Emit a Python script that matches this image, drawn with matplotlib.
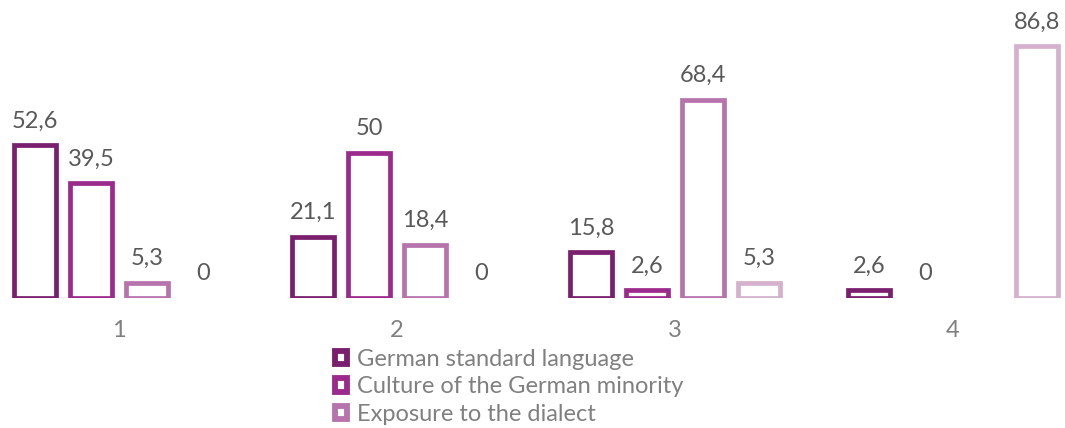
import numpy as np
import matplotlib
matplotlib.use("Agg")
import matplotlib.pyplot as plt
from matplotlib.patches import Patch

plt.rcParams['font.family'] = ['Lato', 'DejaVu Sans']

# Share of answers per rating (percent)
categories = ['1', '2', '3', '4']
series_names = ['German standard language',
                'Culture of the German minority',
                'Exposure to the dialect',
                'Other']
standard_language = [52.6, 21.1, 15.8, 2.6]
minority_culture = [39.5, 50.0, 2.6, 0.0]
dialect_exposure = [5.3, 18.4, 68.4, np.nan]
other = [0.0, 0.0, 5.3, 86.8]

series = [standard_language, minority_culture, dialect_exposure, other]
colors = ['#7a1e6e', '#9b2a8c', '#b673ac', '#d5b1cd']

fig = plt.figure(figsize=(10.65, 4.28), dpi=100)
ax = fig.add_axes([0, (428 - 298) / 428, 1, 298 / 428])

x = np.arange(len(categories))
step = 0.2014
width = 0.151

for j, (vals, col) in enumerate(zip(series, colors)):
    pos = x + (j - 1.5) * step
    for xp, v in zip(pos, vals):
        if np.isnan(v):
            continue
        # zero values get only a label, no outline
        if v > 0:
            ax.bar(xp, v, width, facecolor='white', edgecolor=col,
                   linewidth=3.4)
        ax.annotate(f'{v:g}'.replace('.', ','), (xp, v),
                    xytext=(0, 17.5), textcoords='offset points',
                    ha='center', va='center', fontsize=17,
                    color='#595959')

ax.set_xlim(-119 / 278, (1065 - 119) / 278)
ax.set_ylim(0, 298 / 2.9)
ax.set_xticks(x)
ax.set_xticklabels(categories, fontsize=17, color='#808080')
ax.tick_params(axis='x', length=0, pad=16)
ax.set_yticks([])
for s in ax.spines.values():
    s.set_visible(False)

handles = [Patch(facecolor='white', edgecolor=c, linewidth=4.2)
           for c in colors[:3]]
fig.legend(handles, series_names[:3], loc='upper left',
           bbox_to_anchor=(335 / 1065, 1 - 349 / 428), frameon=False,
           fontsize=17, labelcolor='#808080', handlelength=0.5,
           handleheight=0.5, handletextpad=0.45, labelspacing=0.27,
           borderpad=0, borderaxespad=0)

fig.savefig('out.png', dpi=100)
